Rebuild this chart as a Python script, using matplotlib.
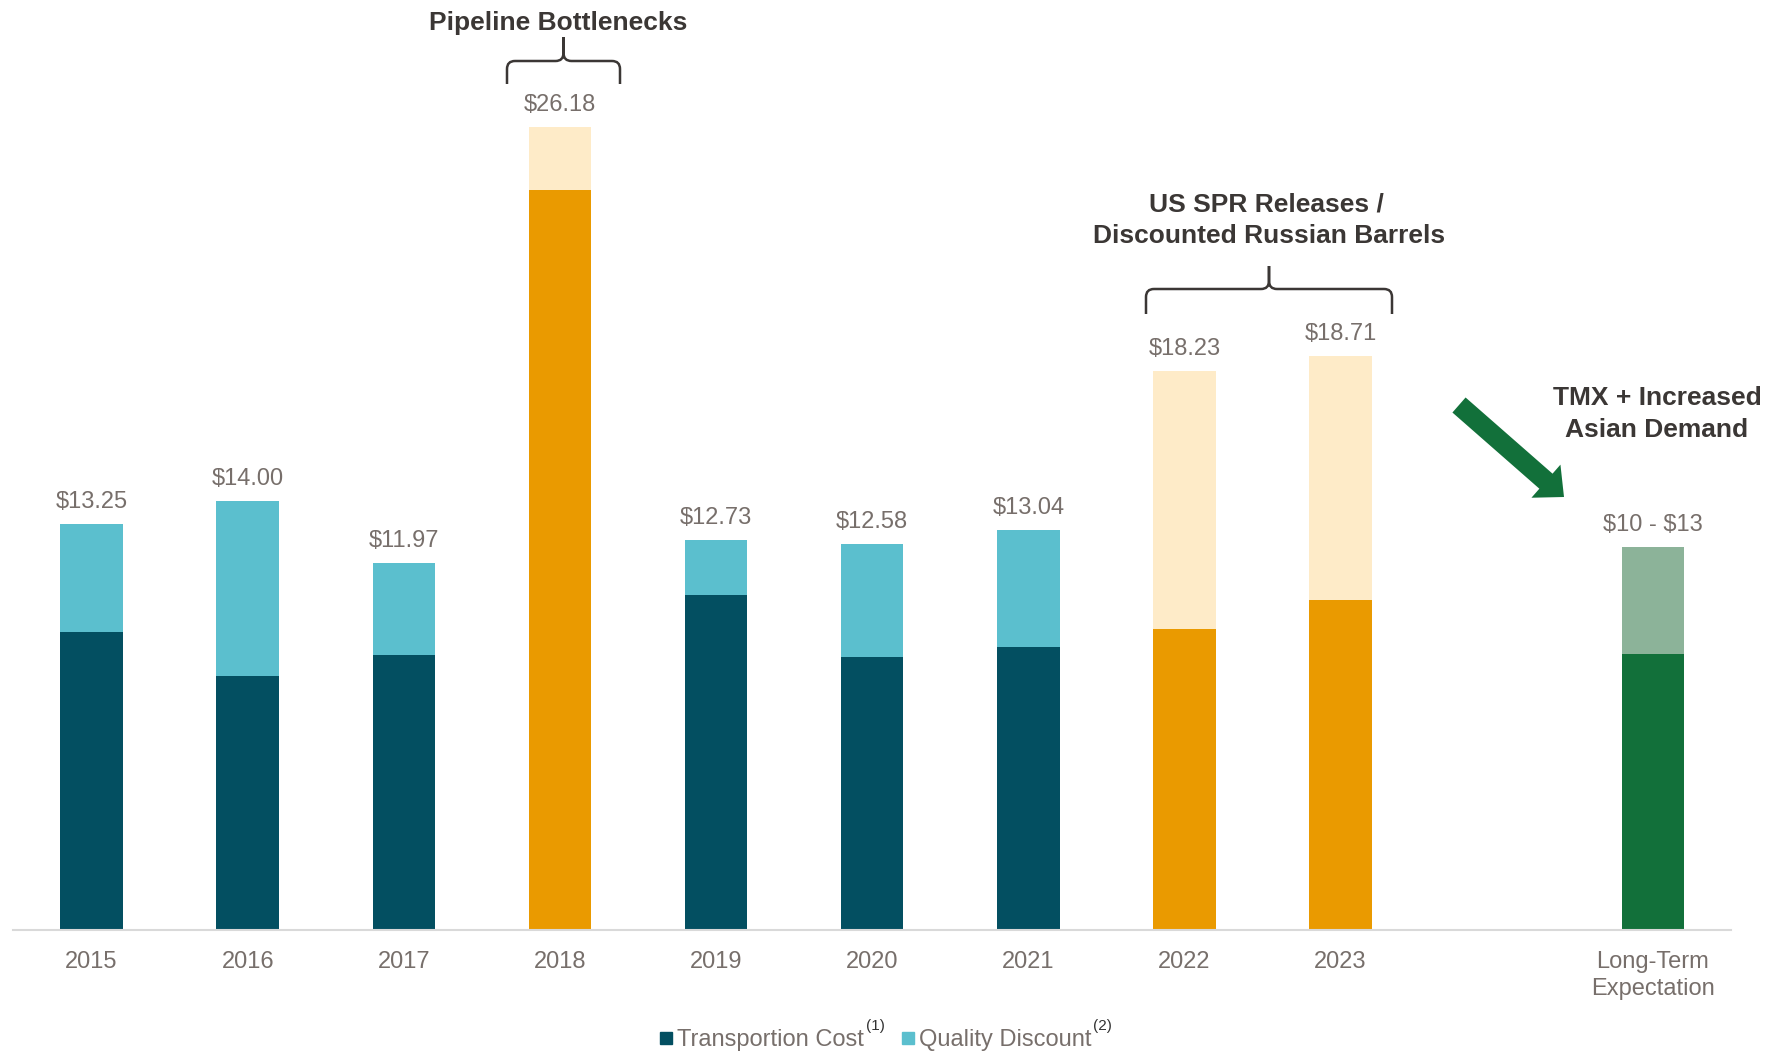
import matplotlib.pyplot as plt
import numpy as np
from matplotlib.path import Path
from matplotlib.patches import PathPatch, FancyArrow, Rectangle

plt.rcParams['font.family'] = ['Liberation Sans', 'DejaVu Sans']

# Datos por año ($/bbl)
categorias = ['2015', '2016', '2017', '2018', '2019', '2020', '2021', '2022', '2023',
              'Long-Term\nExpectation']
totales = [13.25, 14.00, 11.97, 26.18, 12.73, 12.58, 13.04, 18.23, 18.71, 12.5]
transporte = [9.73, 8.27, 8.98, 24.13, 10.92, 8.91, 9.22, 9.80, 10.77, 9.0]
etiquetas = ['$13.25', '$14.00', '$11.97', '$26.18', '$12.73', '$12.58', '$13.04',
             '$18.23', '$18.71', '$10 - $13']
tipo = ['normal', 'normal', 'normal', 'evento', 'normal', 'normal', 'normal',
        'evento', 'evento', 'futuro']

colores_base = {'normal': '#034F61', 'evento': '#EA9A00', 'futuro': '#12703A'}
colores_tope = {'normal': '#5BBFCE', 'evento': '#FEEBC8', 'futuro': '#8CB399'}

GRIS = '#776F6B'
OSCURO = '#3B3735'

calidad = [t - b for t, b in zip(totales, transporte)]
xs = list(range(9)) + [10]  # se deja un hueco antes de la expectativa

fig = plt.figure(figsize=(17.66, 10.51), dpi=100)
ax = fig.add_axes([0.00764, 0.1151, 0.9725, 0.8849])

ax.bar(xs, transporte, width=0.4, color=[colores_base[t] for t in tipo], zorder=2)
ax.bar(xs, calidad, width=0.4, bottom=transporte,
       color=[colores_tope[t] for t in tipo], zorder=2)

for xi, tot, lab in zip(xs, totales, etiquetas):
    ax.annotate(lab, (xi, tot), xytext=(0, 11.5), textcoords='offset points',
                ha='center', va='baseline', fontsize=17, color=GRIS,
                parse_math=False)

ax.set_xlim(-0.5, 10.5)
ax.set_ylim(0, 30.32)
ax.set_xticks(xs, categorias)
ax.tick_params(axis='x', length=0, pad=15, labelsize=17, labelcolor=GRIS)
for t in ax.get_xticklabels():
    t.set_linespacing(1.3)
ax.set_yticks([])
for s in ['top', 'right', 'left']:
    ax.spines[s].set_visible(False)
ax.spines['bottom'].set_color('#D9D9D9')
ax.spines['bottom'].set_linewidth(1.5)

# capa en pixeles para llaves, flecha, textos y leyenda
ov = fig.add_axes([0, 0, 1, 1], zorder=5)
ov.set_xlim(0, 1766)
ov.set_ylim(1051, 0)
ov.axis('off')


def llave(x0, x1, y, y_fin, y_pico, r=8):
    c = (x0 + x1) / 2
    verts = [(x0, y_fin), (x0, y + r), (x0, y), (x0 + r, y),
             (c - r, y), (c, y), (c, y - r), (c, y_pico),
             (c, y - r), (c, y), (c + r, y),
             (x1 - r, y), (x1, y), (x1, y + r), (x1, y_fin)]
    codes = [Path.MOVETO, Path.LINETO, Path.CURVE3, Path.CURVE3,
             Path.LINETO, Path.CURVE3, Path.CURVE3, Path.LINETO,
             Path.LINETO, Path.CURVE3, Path.CURVE3,
             Path.LINETO, Path.CURVE3, Path.CURVE3, Path.LINETO]
    ov.add_patch(PathPatch(Path(verts, codes), fill=False, lw=1.8, ec=OSCURO))


llave(507, 620, 61, 84, 37)
llave(1146, 1392, 289, 314, 266)

ov.text(558, 30, 'Pipeline Bottlenecks', ha='center', va='baseline',
        fontsize=19, fontweight='bold', color=OSCURO)
ov.text(1266, 211.7, 'US SPR Releases /', ha='center', va='baseline',
        fontsize=19, fontweight='bold', color=OSCURO)
ov.text(1269, 242.7, 'Discounted Russian Barrels', ha='center', va='baseline',
        fontsize=19, fontweight='bold', color=OSCURO)
ov.text(1657, 405, 'TMX + Increased', ha='center', va='baseline',
        fontsize=19, fontweight='bold', color=OSCURO)
ov.text(1657, 436.7, 'Asian Demand', ha='center', va='baseline',
        fontsize=19, fontweight='bold', color=OSCURO)

ov.add_patch(FancyArrow(1459, 405, 105, 92, width=20, head_width=44, head_length=24,
                        length_includes_head=True, color='#12703A', lw=0))

# leyenda
ov.add_patch(Rectangle((660, 1032), 12, 12, color='#034F61'))
ov.text(677, 1046, 'Transportion Cost', ha='left', va='baseline', fontsize=17, color=GRIS)
ov.text(866, 1030, '(1)', ha='left', va='baseline', fontsize=11, color='#333333')
ov.add_patch(Rectangle((902, 1032), 12, 12, color='#5BBFCE'))
ov.text(919, 1046, 'Quality Discount', ha='left', va='baseline', fontsize=17, color=GRIS)
ov.text(1093, 1030, '(2)', ha='left', va='baseline', fontsize=11, color='#333333')

fig.savefig('out.png', dpi=100)
